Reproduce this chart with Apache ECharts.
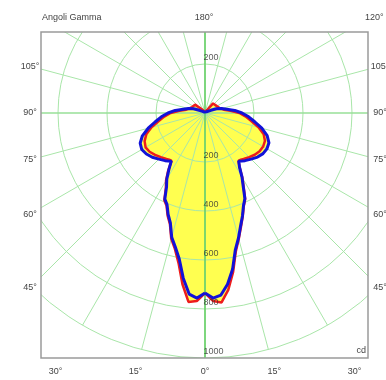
<!DOCTYPE html>
<html>
<head>
<meta charset="utf-8">
<script src="https://cdn.jsdelivr.net/npm/echarts@6/dist/echarts.min.js"></script>
<style>html,body{margin:0;padding:0;background:#fff;}#c{width:386px;height:380px;}</style>
</head>
<body>
<div id="c"></div>
<script>
// gamma angles (deg from nadir), luminous intensity in cd
const gammaAngles = [0, 2.5, 5, 7.5, 10, 12.5, 15, 17.5, 20, 22.5, 25, 27.5, 30, 32.5, 35, 37.5, 40, 45, 50, 55, 60, 65, 70, 75, 80, 85, 90, 95, 100, 105, 110, 115, 120, 130, 140, 145, 150, 160, 170, 180];
const blueLeft  = [735, 756, 742, 680, 605, 560, 525, 470, 440, 405, 388, 340, 312, 275, 240, 247, 254, 266, 281, 292, 298, 292, 272, 240, 206, 179, 151, 122, 90, 70, 50, 26, 15, 8, 6, 5, 5, 5, 5, 5];
const blueRight = [735, 756, 746, 705, 648, 572, 528, 483, 447, 410, 385, 338, 302, 262, 240, 247, 254, 266, 280, 289, 292, 288, 270, 240, 206, 179, 151, 122, 90, 70, 50, 26, 15, 8, 6, 5, 5, 5, 5, 5];
const redLeft   = [735, 768, 774, 705, 622, 568, 532, 476, 446, 410, 393, 346, 318, 280, 238, 240, 245, 255, 266, 276, 280, 272, 255, 226, 193, 167, 140, 105, 78, 68, 62, 58, 56, 53, 51, 15, 4, 3, 3, 3];
const redRight  = [735, 768, 776, 728, 660, 580, 532, 488, 450, 413, 388, 342, 305, 264, 238, 240, 245, 255, 265, 272, 274, 270, 255, 226, 193, 167, 140, 105, 78, 68, 62, 58, 56, 53, 51, 15, 4, 3, 3, 3];
const radiusTicks = [200, 400, 600, 800, 1000];
const topRadiusTicks = [200];
const sideTicks = [105, 90, 75, 60, 45];
const bottomTicks = [-30, -15, 0, 15, 30];
const titleText = 'Angoli Gamma';
const topTickText = '180°';
const cornerTickText = '120°';
const unitText = 'cd';

const CX = 205, CY = 113, R = 245, RMAX = 1000;
const FRAME = {x: 41, y: 32, w: 327, h: 326};
const LBL = {left: -175, right: 175, bottom: 259, top: -95};
const FAMILY = '"Liberation Sans", Arial, sans-serif';
const FONT = '9px ' + FAMILY;
const TXT = '#444';

function curve(left, right) {
  const pts = [];
  for (let i = 0; i < gammaAngles.length; i++) pts.push([left[i], gammaAngles[i]]);
  for (let i = gammaAngles.length - 1; i >= 0; i--) pts.push([right[i], 360 - gammaAngles[i]]);
  return pts;
}
const blueData = curve(blueLeft, blueRight);
const redData = curve(redLeft, redRight);

function text(t, x, y, align, valign) {
  return {type: 'text', z: 102, style: {text: t, x: x, y: y, font: FONT, fill: TXT,
    align: align, textAlign: align, verticalAlign: valign, textVerticalAlign: valign}};
}
const graphics = [
  {type: 'rect', z: 100, shape: {x: 0, y: 0, width: 386, height: FRAME.y}, style: {fill: '#fff'}},
  {type: 'rect', z: 100, shape: {x: 0, y: FRAME.y + FRAME.h, width: 386, height: 380}, style: {fill: '#fff'}},
  {type: 'rect', z: 100, shape: {x: 0, y: 0, width: FRAME.x, height: 380}, style: {fill: '#fff'}},
  {type: 'rect', z: 100, shape: {x: FRAME.x + FRAME.w, y: 0, width: 100, height: 380}, style: {fill: '#fff'}},
  {type: 'rect', z: 101, shape: {x: FRAME.x, y: FRAME.y, width: FRAME.w, height: FRAME.h},
    style: {fill: 'none', stroke: '#9a9a9a', lineWidth: 1.5}}
];
sideTicks.forEach(g => {
  const rad = g * Math.PI / 180;
  const y = CY + LBL.right * Math.cos(rad) / Math.sin(rad);
  graphics.push(text(g + '°', CX + LBL.left, y, 'center', 'middle'));
  graphics.push(text(g + '°', CX + LBL.right, y, 'center', 'middle'));
});
bottomTicks.forEach(g => {
  const x = CX + LBL.bottom * Math.tan(Math.abs(g) * Math.PI / 180) * Math.sign(g);
  graphics.push(text(Math.abs(g) + '°', x, CY + LBL.bottom, 'center', 'middle'));
});
graphics.push(text(topTickText, CX - 1, CY + LBL.top, 'center', 'middle'));
graphics.push(text(titleText, 42, CY + LBL.top, 'left', 'middle'));
graphics.push(text(cornerTickText, 365, CY + LBL.top, 'left', 'middle'));
graphics.push(text(unitText, 366, 351, 'right', 'middle'));

const light = '#a9e6a9';
const radLabelData = radiusTicks.map(v => [v, 0]).concat(topRadiusTicks.map(v => [v, 180]));

function angleAxis(idx, interval, color, width, z) {
  return {
    polarIndex: idx, type: 'value', min: 0, max: 360, interval: interval, startAngle: 270, clockwise: true, z: z,
    axisLine: {show: false}, axisTick: {show: false}, axisLabel: {show: false},
    splitLine: {show: true, lineStyle: {color: color, width: width}}
  };
}
function radiusAxis(idx, show, z) {
  return {
    polarIndex: idx, type: 'value', min: 0, max: RMAX, interval: 200, z: z,
    axisLine: {show: false}, axisTick: {show: false}, axisLabel: {show: false},
    splitLine: {show: show, lineStyle: {color: light, width: 1}}
  };
}

const chart = echarts.init(document.getElementById('c'), null, {renderer: 'canvas'});
chart.setOption({
  animation: false,
  backgroundColor: '#fff',
  polar: [
    {center: [CX, CY], radius: R},
    {center: [CX, CY], radius: R},
    {center: [CX, CY], radius: R}
  ],
  angleAxis: [
    angleAxis(0, 15, light, 1, 3),
    angleAxis(1, 90, '#8fdc8f', 1, 3.1),
    angleAxis(2, 180, '#5ccc5c', 1.2, 3.2)
  ],
  radiusAxis: [radiusAxis(0, true, 3), radiusAxis(1, false, 3), radiusAxis(2, false, 3)],
  graphic: {elements: graphics},
  series: [
    {type: 'line', coordinateSystem: 'polar', polarIndex: 0, data: blueData, z: 1, symbol: 'none', silent: true,
      lineStyle: {width: 0, opacity: 0}, areaStyle: {color: '#ffff50', opacity: 1}},
    {type: 'line', coordinateSystem: 'polar', polarIndex: 0, data: redData, z: 1, symbol: 'none', silent: true,
      lineStyle: {width: 0, opacity: 0}, areaStyle: {color: '#ffff50', opacity: 1}},
    {type: 'line', coordinateSystem: 'polar', polarIndex: 0, data: redData, z: 5, symbol: 'none',
      lineStyle: {color: '#ee1c1c', width: 2.5}},
    {type: 'line', coordinateSystem: 'polar', polarIndex: 0, data: blueData, z: 6, symbol: 'none',
      lineStyle: {color: '#1212d8', width: 3}},
    {type: 'scatter', coordinateSystem: 'polar', polarIndex: 0, data: radLabelData, z: 7, symbolSize: 1,
      itemStyle: {color: 'rgba(0,0,0,0)'},
      label: {show: true, formatter: p => String(p.value[0]), position: [-1, -10],
        align: 'left', verticalAlign: 'top', fontSize: 9, fontFamily: FAMILY, color: '#333'}}
  ]
});
</script>
</body>
</html>
